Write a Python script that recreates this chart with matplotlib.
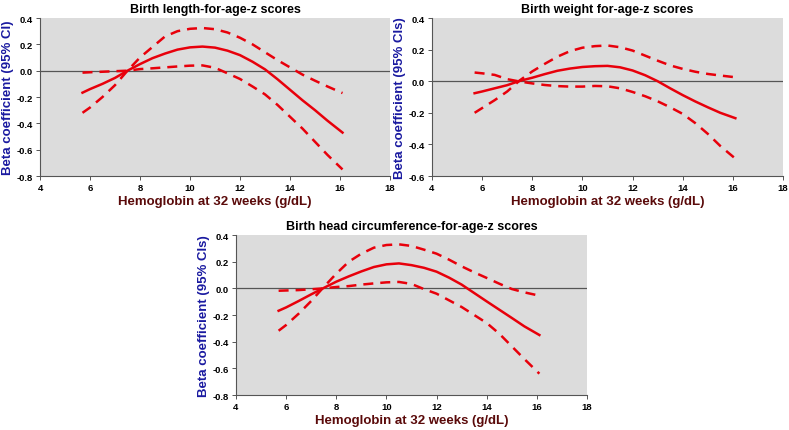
import matplotlib.pyplot as plt

plt.rcParams['font.family'] = ['Liberation Sans', 'DejaVu Sans']
plt.rcParams['font.weight'] = 'bold'

# hemoglobin grid (g/dL)
hb = [5.7, 6, 6.5, 7, 7.5, 8, 8.5, 9, 9.5, 10, 10.5, 11, 11.5, 12, 12.5, 13, 13.5, 14, 14.5, 15, 15.5, 16.1]

# birth length
len_est = [-0.167, -0.14, -0.1, -0.055, 0.0, 0.05, 0.095, 0.13, 0.16, 0.177, 0.183, 0.175, 0.152, 0.118, 0.068, 0.01, -0.065, -0.145, -0.225, -0.30, -0.38, -0.47]
len_hi = [-0.32, -0.28, -0.2, -0.11, 0.0, 0.1, 0.18, 0.26, 0.3, 0.318, 0.324, 0.315, 0.29, 0.25, 0.2, 0.14, 0.08, 0.025, -0.03, -0.076, -0.12, -0.17]
len_lo = [-0.015, -0.012, -0.008, -0.004, 0.0, 0.012, 0.018, 0.025, 0.032, 0.038, 0.04, 0.022, -0.02, -0.063, -0.12, -0.18, -0.26, -0.35, -0.44, -0.54, -0.64, -0.75]

# birth weight
wt_est = [-0.076, -0.065, -0.045, -0.025, 0.002, 0.022, 0.045, 0.066, 0.08, 0.09, 0.095, 0.097, 0.088, 0.068, 0.038, 0.0, -0.045, -0.088, -0.128, -0.165, -0.2, -0.234]
wt_hi = [-0.2, -0.17, -0.12, -0.065, 0.005, 0.062, 0.11, 0.155, 0.19, 0.212, 0.222, 0.226, 0.215, 0.194, 0.162, 0.13, 0.1, 0.078, 0.06, 0.046, 0.036, 0.025]
wt_lo = [0.055, 0.05, 0.04, 0.013, -0.002, -0.014, -0.024, -0.031, -0.034, -0.034, -0.03, -0.032, -0.045, -0.068, -0.095, -0.127, -0.165, -0.207, -0.265, -0.333, -0.41, -0.49]

# birth head circumference
hc_est = [-0.168, -0.143, -0.095, -0.045, 0.003, 0.05, 0.09, 0.127, 0.16, 0.18, 0.187, 0.174, 0.154, 0.125, 0.08, 0.028, -0.035, -0.098, -0.16, -0.222, -0.285, -0.35]
hc_hi = [-0.318, -0.275, -0.19, -0.095, 0.01, 0.11, 0.2, 0.26, 0.305, 0.325, 0.33, 0.318, 0.29, 0.26, 0.215, 0.165, 0.12, 0.078, 0.035, -0.005, -0.03, -0.055]
hc_lo = [-0.018, -0.016, -0.013, -0.007, 0.0, 0.01, 0.017, 0.028, 0.037, 0.045, 0.048, 0.033, -0.006, -0.04, -0.09, -0.14, -0.2, -0.26, -0.34, -0.435, -0.53, -0.64]

titles = ['Birth length-for-age-z scores', 'Birth weight for-age-z scores',
          'Birth head circumference-for-age-z scores']
ylabels = ['Beta coefficient (95% CI)', 'Beta coefficient (95% CIs)', 'Beta coefficient (95% CIs)']
ylims = [(-0.8, 0.4), (-0.6, 0.4), (-0.8, 0.4)]
series = [(len_est, len_hi, len_lo), (wt_est, wt_hi, wt_lo), (hc_est, hc_hi, hc_lo)]

fig = plt.figure(figsize=(7.89, 4.31), dpi=100)
boxes = [[0.0507, 0.5893, 0.4436, 0.3666],
         [0.5475, 0.5893, 0.4449, 0.3666],
         [0.2991, 0.0812, 0.4449, 0.3712]]

red = '#e8000b'
for i in range(3):
    ax = fig.add_axes(boxes[i])
    ax.set_facecolor('#dcdcdc')
    est, hi, lo = series[i]
    ax.axhline(0, color='#555555', lw=0.9, zorder=1)
    ax.plot(hb, est, color=red, lw=1.8, zorder=3)
    ax.plot(hb, hi, color=red, lw=1.8, ls=(0, (4, 2.8)), zorder=3)
    ax.plot(hb, lo, color=red, lw=1.8, ls=(0, (4, 2.8)), zorder=3)
    ax.set_xlim(4, 18)
    ax.set_ylim(*ylims[i])
    ax.set_xticks(range(4, 19, 2))
    lo_y, hi_y = ylims[i]
    yt = [round(lo_y + 0.2 * k, 1) for k in range(int(round((hi_y - lo_y) / 0.2)) + 1)]
    ax.set_yticks(yt)
    ax.set_yticklabels(['%.1f' % v for v in yt])
    for s in ['top', 'right']:
        ax.spines[s].set_visible(False)
    for s in ['left', 'bottom']:
        ax.spines[s].set_color('#555555')
        ax.spines[s].set_linewidth(0.8)
    ax.tick_params(labelsize=6.8, length=3, width=0.7, color='#555555', pad=2)
    for lab in ax.get_xticklabels() + ax.get_yticklabels():
        lab.set_fontweight('bold')
    ax.set_title(titles[i], fontsize=9, fontweight='bold', pad=4)
    ax.set_xlabel('Hemoglobin at 32 weeks (g/dL)', fontsize=9.5, fontweight='bold',
                  color='#5a0a0a', labelpad=2)
    ax.set_ylabel(ylabels[i], fontsize=9.5, fontweight='bold', color='#1a1aa0', labelpad=2)

fig.savefig('out.png', dpi=100)
